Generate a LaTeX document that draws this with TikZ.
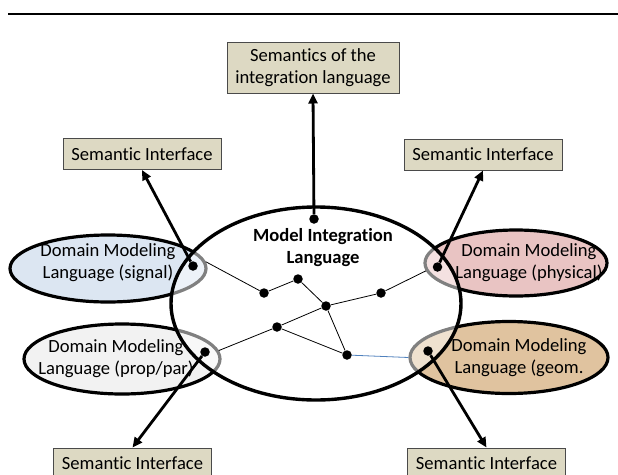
\documentclass[tikz,border=0pt]{standalone}
\usepackage{fontspec}
\setmainfont{Carlito}[Ligatures={NoCommon}]
\usetikzlibrary{shapes.geometric,arrows.meta}
\definecolor{boxfill}{HTML}{DDD9C3}
\definecolor{boxline}{HTML}{4A4A4A}
\definecolor{sigfill}{HTML}{DCE6F2}
\definecolor{phyfill}{HTML}{E9C4C3}
\definecolor{ppfill}{HTML}{F2F2F2}
\definecolor{geofill}{HTML}{E0C39F}
\definecolor{blueline}{HTML}{4F81BD}
\newcommand{\myfs}{\fontsize{18.6}{22}\selectfont}
\begin{document}
\begin{tikzpicture}[x=1pt,y=-1pt,
  sembox/.style={draw=boxline, fill=boxfill, line width=1pt, minimum width=158pt, minimum height=31pt, inner sep=0pt, font=\myfs},
  dml/.style={ellipse, draw=black, line width=3.2pt, inner sep=0pt},
  txt/.style={align=center, font=\myfs, inner sep=0pt},
  dot/.style={circle, fill=black, inner sep=0pt, minimum size=9.5pt},
  thinln/.style={line width=0.8pt},
  arr/.style={line width=2.8pt, -{Triangle[length=10pt,width=9pt]}}
]
\useasboundingbox (0,0) rectangle (618,474);
\clip (0,0) rectangle (618,474);

% top rule
\coordinate (r1) at (8,14);
\coordinate (r2) at (618,14);
\draw[line width=1.6pt] (r1) -- (r2);

% boxes
\node[sembox, minimum width=172pt, minimum height=51pt, align=center] (top) at (313,67.5) {Semantics of the\\integration language};
\node[sembox] (tl) at (142,154) {Semantic Interface};
\node[sembox] (tr) at (483,154.5) {Semantic Interface};
\node[sembox] (bl) at (132.5,463.5) {Semantic Interface};
\node[sembox] (br) at (486.5,463.5) {Semantic Interface};

% domain ellipses
\node[dml, fill=sigfill, minimum width=196pt, minimum height=67pt] (sig) at (108,268.5) {};
\node[dml, fill=phyfill, minimum width=182pt, minimum height=66pt] (phy) at (516,263) {};
\node[dml, fill=ppfill, minimum width=196pt, minimum height=70pt] (pp) at (122,359) {};
\node[dml, fill=geofill, minimum width=198pt, minimum height=72pt] (geo) at (509,357.5) {};

% big ellipse
\node[ellipse, draw=black, line width=3.4pt, fill=white, fill opacity=0.5, minimum width=290pt, minimum height=193pt, inner sep=0pt] (mil) at (316,303.5) {};

% texts
\node[txt] (sigt) at (108,262.5) {Domain Modeling\\Language (signal)};
\node[txt] (phyt) at (529,262.5) {Domain Modeling\\Language (physical)};
\node[txt] (ppt) at (116,359) {Domain Modeling\\Language (prop/par)};
\node[txt] (geot) at (519,357.5) {Domain Modeling\\Language (geom.};
\node[txt, font=\myfs\bfseries] (milt) at (323,247.5) {Model Integration\\Language};

% dots
\node[dot] (mdot) at (314,219) {};
\node[dot] (sdot) at (193,266) {};
\node[dot] (pdot) at (437.5,267) {};
\node[dot] (ppdot) at (205,352) {};
\node[dot] (gdot) at (428,351) {};
\node[dot] (A) at (264,293) {};
\node[dot] (B) at (298,279) {};
\node[dot] (C) at (326,306) {};
\node[dot] (D) at (381,293) {};
\node[dot] (E) at (277,327) {};
\node[dot] (F) at (347,355) {};

% thin network
\draw[thinln] (sig.4) -- (A) -- (B) -- (C) -- (D) -- (phy.185);
\draw[thinln] (pp.5) -- (E) -- (C);
\draw[thinln] (E) -- (F);
\draw[thinln] (C) -- (F);
\draw[thinln, blueline] (F) -- (geo.west);

% arrows
\draw[arr] (mdot) -- (top.south);
\draw[arr] (sdot) -- (tl.south);
\draw[arr] (pdot) -- (tr.south);
\draw[arr] (ppdot) -- (bl.north);
\draw[arr] (gdot) -- (br.north);
\end{tikzpicture}
\end{document}
